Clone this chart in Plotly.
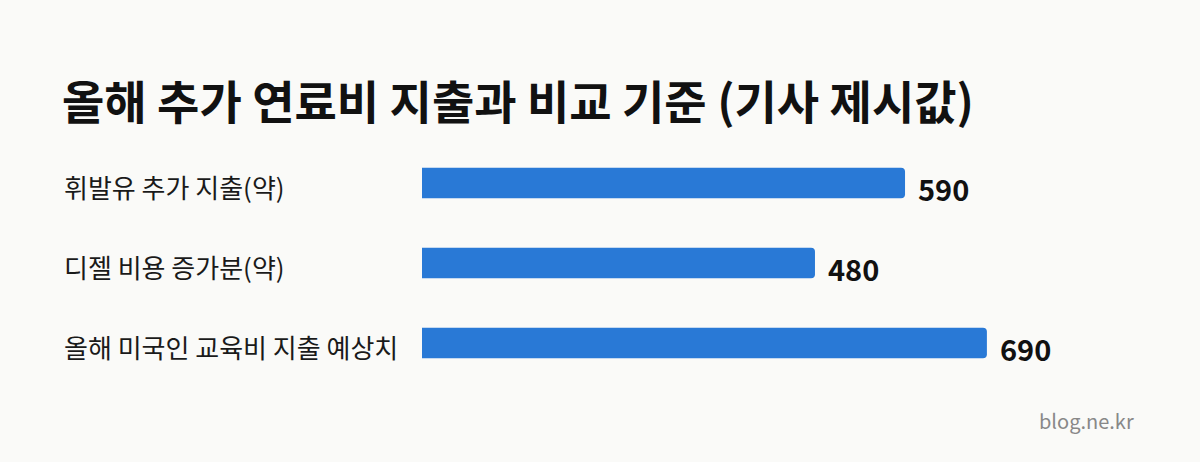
import plotly.graph_objects as go

categories = ["휘발유 추가 지출(약)", "디젤 비용 증가분(약)", "올해 미국인 교육비 지출 예상치"]
values = [590, 480, 690]
value_labels = ["590", "480", "690"]
title_text = "올해 추가 연료비 지출과 비교 기준 (기사 제시값)"
watermark = "blog.ne.kr"

W, H = 1200, 462
ML, MR, MT, MB = 422, 60, 143, 79
plot_w = W - ML - MR
plot_h = H - MT - MB
xmax = 877

FONT = "Noto Sans CJK KR"
BAR_COLOR = "#2979D6"
BG = "#FAFAF8"


def px_x(px):
    return (px - ML) / plot_w


def px_y(py):
    return (H - MB - py) / plot_h


fig = go.Figure()
fig.add_trace(go.Bar(
    x=values, y=categories, orientation="h",
    marker=dict(color=BAR_COLOR, line=dict(width=0)),
    width=0.38, hoverinfo="skip",
))

# value labels
for c, v, t in zip(categories, values, value_labels):
    fig.add_annotation(x=v, y=c, xref="x", yref="y", text=f"<b>{t}</b>",
                       showarrow=False, xanchor="left", yanchor="middle",
                       xshift=11, yshift=-5,
                       font=dict(family=FONT, size=29, color="#111111"))

# category labels (left aligned)
for c in categories:
    fig.add_annotation(x=px_x(62), y=c, xref="paper", yref="y", text=c,
                       showarrow=False, xanchor="left", yanchor="middle",
                       yshift=-3,
                       font=dict(family=FONT, size=26, color="#1a1a1a"))

fig.add_annotation(x=px_x(1136), y=px_y(420), xref="paper", yref="paper",
                   text=watermark, showarrow=False, xanchor="right", yanchor="middle",
                   font=dict(family=FONT, size=20, color="#888888"))

fig.update_layout(
    width=W, height=H,
    paper_bgcolor=BG, plot_bgcolor=BG,
    margin=dict(l=ML, r=MR, t=MT, b=MB, autoexpand=False),
    barcornerradius=4,
    showlegend=False,
    title=dict(text=f"<b>{title_text}</b>", xref="container", yref="container",
               x=62 / W, xanchor="left", y=1 - 103 / H, yanchor="middle",
               font=dict(family=FONT, size=46, color="#111111")),
    xaxis=dict(range=[0, xmax], visible=False, fixedrange=True),
    yaxis=dict(autorange="reversed", showticklabels=False, showgrid=False,
               zeroline=False, showline=False, ticks=""),
)

fig.write_html("out.html", config={"displayModeBar": False},
               post_script="document.body.style.margin='0';document.body.style.background='%s';" % BG)
